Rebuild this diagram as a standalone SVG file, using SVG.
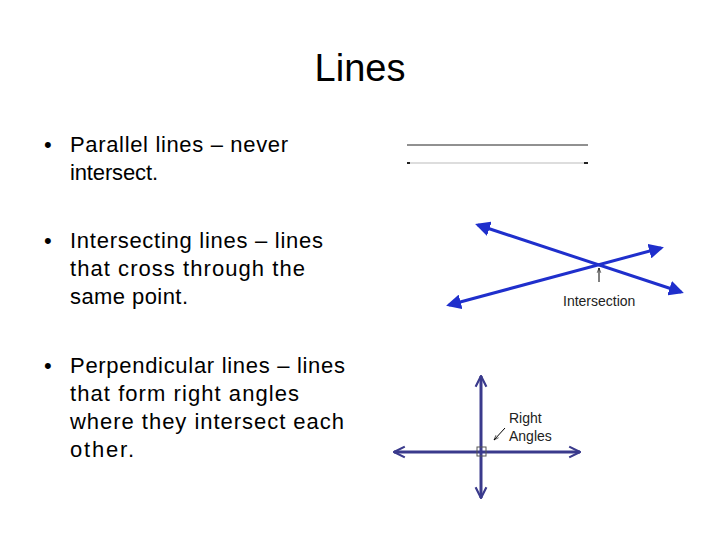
<svg xmlns="http://www.w3.org/2000/svg" width="720" height="540" viewBox="0 0 720 540">
<style>
.t{font-family:"Liberation Sans",Arial,sans-serif;fill:#000}
.b{font-size:22px}
.s{font-size:14px;fill:#222}
.bl{stroke:#1f2fcc;stroke-width:3;fill:none}
.nv{stroke:#3a3a8c;stroke-width:3;fill:none}
</style>
<defs>
<marker id="ab" viewBox="0 0 10 10" refX="8" refY="5" markerWidth="5" markerHeight="5" orient="auto-start-reverse"><path d="M0,0L10,5L0,10z" fill="#1f2fcc"/></marker>
<marker id="an" viewBox="0 0 10 10" refX="9" refY="5" markerWidth="4.5" markerHeight="4.5" orient="auto-start-reverse"><path d="M1,1L9,5L1,9" fill="none" stroke="#3a3a8c" stroke-width="1.6"/></marker>
<marker id="ak" viewBox="0 0 10 10" refX="9" refY="5" markerWidth="6" markerHeight="6" orient="auto"><path d="M1,2L9,5L1,8" fill="none" stroke="#000" stroke-width="1"/></marker>
</defs>
<rect width="720" height="540" fill="#fff"/>
<text class="t" x="360" y="81" font-size="38" text-anchor="middle">Lines</text>
<g id="text">
<text class="t b" x="44" y="152">•</text>
<text class="t b" x="70" y="152" textLength="218">Parallel lines – never</text>
<text class="t b" x="70" y="180" textLength="88">intersect.</text>
<text class="t b" x="44" y="248">•</text>
<text class="t b" x="70" y="248" textLength="253">Intersecting lines – lines</text>
<text class="t b" x="70" y="276" textLength="235">that cross through the</text>
<text class="t b" x="70" y="304" textLength="118">same point.</text>
<text class="t b" x="44" y="373">•</text>
<text class="t b" x="70" y="373" textLength="275">Perpendicular lines – lines</text>
<text class="t b" x="70" y="401" textLength="229">that form right angles</text>
<text class="t b" x="70" y="429" textLength="274">where they intersect each</text>
<text class="t b" x="70" y="457" textLength="64">other.</text>
</g>
<g id="connectors">
<line x1="407" y1="145" x2="588" y2="145" stroke="#222" stroke-width="1"/>
<line x1="408" y1="163" x2="588" y2="163" stroke="#bbb" stroke-width="1"/>
<rect x="407" y="162" width="3" height="2" fill="#222"/><rect x="584" y="162" width="4" height="2" fill="#222"/>
<line class="bl" x1="478" y1="225" x2="681" y2="292" marker-start="url(#ab)" marker-end="url(#ab)"/>
<line class="bl" x1="449" y1="305" x2="661" y2="248" marker-start="url(#ab)" marker-end="url(#ab)"/>
<line x1="599" y1="282" x2="599" y2="268" stroke="#000" stroke-width="1" marker-end="url(#ak)"/>
<line class="nv" x1="481" y1="376" x2="481" y2="498" marker-start="url(#an)" marker-end="url(#an)"/>
<line class="nv" x1="394" y1="452" x2="580" y2="452" marker-start="url(#an)" marker-end="url(#an)"/>
<rect x="477" y="447" width="9" height="9" fill="none" stroke="#555" stroke-width="1"/>
<line x1="505" y1="428" x2="494" y2="440" stroke="#000" stroke-width="1" marker-end="url(#ak)"/>
</g>
<text class="t s" x="563" y="306">Intersection</text>
<text class="t s" x="509" y="423">Right</text>
<text class="t s" x="509" y="441">Angles</text>
</svg>
